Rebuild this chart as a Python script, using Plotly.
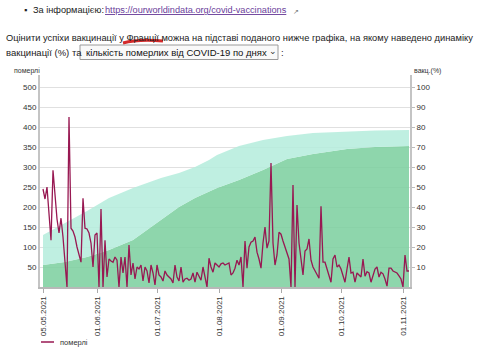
import pandas as pd
import plotly.graph_objects as go

# ---------------- data ----------------
start_date = "2021-05-05"
deaths = [
    245, 220, 250, 185, 117, 292, 235, 170, 135, 172,
    125, 70, 0, 425, 147, 140, 125, 100, 80, 62,
    222, 147, 145, 135, 110, 50, 130, 135, 0, 195,
    0, 117, 25, 70, 65, 62, 75, 67, 0, 75,
    35, 75, 0, 105, 30, 60, 20, 50, 45, 55,
    15, 50, 40, 10, 55, 35, 5, 55, 30, 25,
    15, 40, 30, 25, 20, 10, 55, 25, 15, 50,
    12, 20, 22, 17, 20, 35, 12, 37, 25, 17,
    50, 20, 0, 72, 50, 37, 60, 55, 50, 58,
    60, 55, 58, 60, 30, 35, 47, 67, 55, 75,
    0, 115, 47, 100, 112, 115, 125, 87, 70, 47,
    110, 150, 97, 115, 310, 110, 55, 80, 137, 132,
    115, 100, 87, 70, 0, 255, 0, 205, 110, 67,
    30, 90, 95, 120, 67, 50, 40, 28, 22, 202,
    62, 62, 45, 30, 12, 70, 80, 50, 55, 45,
    30, 12, 45, 75, 35, 37, 12, 35, 30, 25,
    70, 27, 38, 35, 12, 30, 45, 50, 25, 37,
    33, 20, 2, 47, 47, 40, 37, 35, 28, 20,
    0, 80, 40, 40,
]
death_dates = pd.date_range(start_date, periods=len(deaths), freq="D")

vacc_dates = ["2021-05-05", "2021-05-16", "2021-05-27", "2021-06-07", "2021-06-19",
              "2021-07-03", "2021-07-12", "2021-07-20", "2021-07-27", "2021-07-31",
              "2021-08-11", "2021-08-23", "2021-09-04", "2021-09-17", "2021-10-04",
              "2021-10-18", "2021-11-04"]
vacc_full = [11, 12.5, 15, 18.5, 23.5, 33.5, 40, 44.5, 47.5, 49.5,
             53.5, 58.5, 64, 66.5, 69, 70, 70.5]
vacc_one = [26, 32, 38, 44.5, 49.5, 54.5, 57, 60, 63.5, 66,
            70.5, 73.5, 75.5, 77, 77.8, 78.2, 78.5]

x_tick_vals = ["2021-05-05", "2021-06-01", "2021-07-01", "2021-08-01",
               "2021-09-01", "2021-10-01", "2021-11-01"]
x_tick_text = ["05.05.2021", "01.06.2021", "01.07.2021", "01.08.2021",
               "01.09.2021", "01.10.2021", "01.11.2021"]
left_ticks = [50, 100, 150, 200, 250, 300, 350, 400, 450, 500]
right_ticks = [10, 20, 30, 40, 50, 60, 70, 80, 90, 100]

# ---------------- layout geometry ----------------
W, H = 484, 355
L, R, T, B = 40, 410, 75, 287


def px(x):
    return (x - L) / (R - L)


def py(y):
    return (B - y) / (B - T)


FONT = "Liberation Sans, Arial, sans-serif"

fig = go.Figure()

# vaccination areas on the primary (right-side) axis
fig.add_trace(go.Scatter(
    x=vacc_dates, y=vacc_full, yaxis="y", mode="lines",
    line=dict(width=0, color="rgba(0,0,0,0)"), fill="tozeroy",
    fillcolor="rgba(124,207,158,0.86)", hoverinfo="skip", showlegend=False))
fig.add_trace(go.Scatter(
    x=vacc_dates, y=vacc_one, yaxis="y", mode="lines",
    line=dict(width=0, color="rgba(0,0,0,0)"), fill="tonexty",
    fillcolor="rgba(180,236,220,0.86)", hoverinfo="skip", showlegend=False))
# deaths on the overlaying (left-side) axis, drawn on top
fig.add_trace(go.Scatter(
    x=death_dates, y=deaths, yaxis="y2", mode="lines", name="померлі",
    line=dict(color="#981852", width=1.3), showlegend=False))

fig.update_layout(
    width=W, height=H, autosize=False,
    margin=dict(l=L, r=W - R, t=T, b=H - B, pad=0),
    paper_bgcolor="white", plot_bgcolor="white",
    font=dict(family=FONT, size=8, color="#333"),
    xaxis=dict(
        type="date", range=["2021-05-03 12:00", "2021-11-04 12:00"],
        tickvals=x_tick_vals, ticktext=x_tick_text, tickangle=-90,
        ticks="outside", ticklen=4, tickcolor="#aaa", tickwidth=1,
        showline=True, linecolor="#b8b8b8", linewidth=2,
        showgrid=False, zeroline=False, automargin=False,
        tickfont=dict(size=8, color="#333")),
    yaxis=dict(
        range=[0, 106], tickvals=right_ticks, side="right",
        showgrid=False, zeroline=False, showline=True, linecolor="#c4c4c4",
        linewidth=2, ticks="outside", ticklen=3, tickcolor="#bbb",
        automargin=False, tickfont=dict(size=8, color="#333")),
    yaxis2=dict(
        range=[0, 530], tickvals=left_ticks, overlaying="y", side="left",
        showgrid=True, gridcolor="#e0e0e0", gridwidth=1, zeroline=False,
        showline=True, linecolor="#c4c4c4", linewidth=2,
        ticks="", automargin=False, tickfont=dict(size=8, color="#333")),
    showlegend=False,
)


def text_ann(x, y, text, size=9.5, color="#222", anchor="left"):
    return dict(x=px(x), y=py(y), xref="paper", yref="paper", text=text,
                showarrow=False, xanchor=anchor, yanchor="middle",
                font=dict(size=size, color=color, family=FONT))


ann = [
    text_ann(12, 71, "померлі", 7, "#333"),
    text_ann(412, 71, "вакц.(%)", 7, "#333"),
    text_ann(58, 342, "померлі", 7.5, "#333"),
    text_ann(22, 10, "▪", 9, "#222"),
    text_ann(31, 10, "За інформацією:", 9.2),
    text_ann(103, 10, "<a href='https://ourworldindata.org/covid-vaccinations' "
                      "style='color:#6a3d9a'><u>https://ourworldindata.org/covid-vaccinations</u></a>",
             9.2),
    text_ann(291, 11, "↗", 7, "#777"),
    text_ann(4, 38, "Оцінити успіхи вакцинації у Франції можна на підставі поданого нижче графіка,", 9.3),
    text_ann(475, 38, "на якому наведено динаміку", 9.3, anchor="right"),
    text_ann(4, 52, "вакцинації (%) та"),
    text_ann(84, 52, "кількість померлих від COVID-19 по днях", 9.5, "#111"),
    text_ann(267, 51, "⌄", 9, "#333"),
    text_ann(279, 52, ":"),
]

shapes = [
    dict(type="rect", xref="paper", yref="paper",
         x0=px(80), x1=px(278), y0=py(45), y1=py(59.5),
         line=dict(color="#9a9a9a", width=1), fillcolor="rgba(245,245,245,0.6)",
         layer="below"),
    dict(type="path", xref="paper", yref="paper",
         path=f"M {px(123)},{py(43)} Q {px(138)},{py(39)} {px(163)},{py(41)}",
         line=dict(color="#d42a2a", width=3)),
    dict(type="line", xref="paper", yref="paper",
         x0=px(41), x1=px(54), y0=py(342), y1=py(342),
         line=dict(color="#981852", width=1.5)),
]

fig.update_layout(annotations=ann, shapes=shapes)

fig.write_html("out.html", config={"displayModeBar": False},
               post_script="document.body.style.margin='0';document.body.style.overflow='hidden';")
